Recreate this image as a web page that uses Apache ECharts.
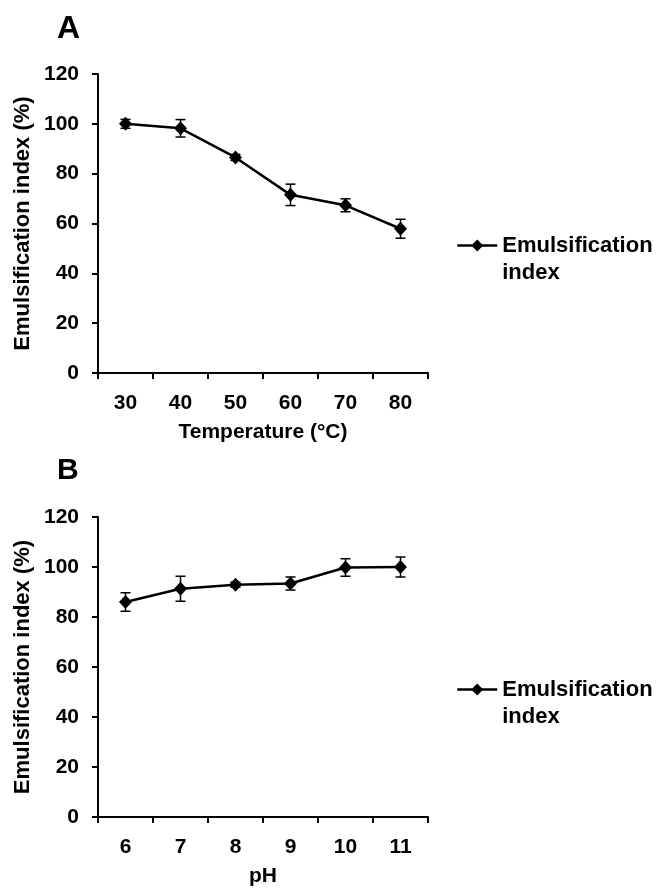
<!DOCTYPE html>
<html>
<head>
<meta charset="utf-8">
<script src="https://cdn.jsdelivr.net/npm/echarts@6/dist/echarts.min.js"></script>
<style>
html,body{margin:0;padding:0;background:#fff;}
#chart{width:660px;height:888px;}
</style>
</head>
<body>
<div id="chart"></div>
<script>
// Panel A: temperature
const tempCategories = ['30', '40', '50', '60', '70', '80'];
const tempValues = [100, 98.2, 86.5, 71.5, 67.3, 57.9];
const tempErrors = [1.8, 3.5, 1.2, 4.3, 2.6, 3.8];
// Panel B: pH
const phCategories = ['6', '7', '8', '9', '10', '11'];
const phValues = [86, 91.3, 92.9, 93.4, 99.8, 100];
const phErrors = [3.7, 5.0, 1.0, 2.6, 3.5, 4.0];
// y axis
const yMin = 0, yMax = 120, yStep = 20;
const seriesName = 'Emulsification index';

const FONT = "'Liberation Sans', Arial, sans-serif";

function errData(vals, errs) {
  return vals.map((v, i) => [i, v - errs[i], v + errs[i]]);
}

function renderErr(params, api) {
  const x = api.value(0);
  const lo = api.coord([x, api.value(1)]);
  const hi = api.coord([x, api.value(2)]);
  const hw = 5;
  const st = { stroke: '#000', lineWidth: 1.5 };
  return {
    type: 'group',
    children: [
      { type: 'line', shape: { x1: hi[0], y1: hi[1], x2: lo[0], y2: lo[1] }, style: st },
      { type: 'line', shape: { x1: hi[0] - hw, y1: hi[1], x2: hi[0] + hw, y2: hi[1] }, style: st },
      { type: 'line', shape: { x1: lo[0] - hw, y1: lo[1], x2: lo[0] + hw, y2: lo[1] }, style: st }
    ]
  };
}

function xAxisCfg(gridIndex, cats, name) {
  return {
    type: 'category', gridIndex, data: cats, boundaryGap: true,
    name, nameLocation: 'middle', nameGap: 49,
    nameTextStyle: { color: '#000', fontFamily: FONT, fontWeight: 'bold', fontSize: 21 },
    axisLine: { show: true, lineStyle: { color: '#000', width: 2 } },
    axisTick: { show: true, inside: false, length: 6, alignWithLabel: false, lineStyle: { color: '#000', width: 2 } },
    axisLabel: { color: '#000', fontFamily: FONT, fontWeight: 'bold', fontSize: 21, margin: 20 },
    splitLine: { show: false }
  };
}
function yAxisCfg(gridIndex) {
  return {
    type: 'value', gridIndex, min: yMin, max: yMax, interval: yStep,
    name: 'Emulsification index (%)', nameLocation: 'middle', nameGap: 64, nameRotate: 90,
    nameTextStyle: { color: '#000', fontFamily: FONT, fontWeight: 'bold', fontSize: 22 },
    axisLine: { show: true, lineStyle: { color: '#000', width: 2 } },
    axisTick: { show: true, inside: false, length: 6, lineStyle: { color: '#000', width: 2 } },
    axisLabel: { color: '#000', fontFamily: FONT, fontWeight: 'bold', fontSize: 21, margin: 19 },
    splitLine: { show: false }
  };
}
function legendCfg(top) {
  return {
    left: 456, top, padding: 0, orient: 'vertical',
    data: [seriesName],
    itemWidth: 40, itemHeight: 15, itemGap: 4,
    selectedMode: false,
    lineStyle: { width: 2.5, color: '#000' },
    formatter: () => '\nEmulsification\nindex',
    textStyle: { color: '#000', fontFamily: FONT, fontWeight: 'bold', fontSize: 22, lineHeight: 27 }
  };
}
function lineSeries(idx, vals) {
  return {
    name: seriesName, type: 'line', xAxisIndex: idx, yAxisIndex: idx,
    data: vals, symbol: 'diamond', symbolSize: [13, 14],
    lineStyle: { color: '#000', width: 2.5 },
    itemStyle: { color: '#000' }, z: 3, animation: false
  };
}
function errSeries(idx, vals, errs) {
  return {
    name: 'err' + idx, type: 'custom', xAxisIndex: idx, yAxisIndex: idx,
    data: errData(vals, errs), renderItem: renderErr, z: 2, animation: false,
    encode: { x: 0, y: [1, 2] }
  };
}

const chart = echarts.init(document.getElementById('chart'), null, { renderer: 'canvas' });
chart.setOption({
  backgroundColor: '#fff',
  animation: false,
  title: [
    { text: 'A', left: 52, top: 8, textStyle: { color: '#000', fontFamily: FONT, fontWeight: 'bold', fontSize: 32 } },
    { text: 'B', left: 52, top: 451, textStyle: { color: '#000', fontFamily: FONT, fontWeight: 'bold', fontSize: 30 } }
  ],
  legend: [legendCfg(205), legendCfg(649)],
  grid: [
    { left: 98, top: 74, width: 330, height: 299, outerBoundsMode: 'none', containLabel: false },
    { left: 98, top: 517, width: 330, height: 300, outerBoundsMode: 'none', containLabel: false }
  ],
  xAxis: [xAxisCfg(0, tempCategories, 'Temperature (°C)'), xAxisCfg(1, phCategories, 'pH')],
  yAxis: [yAxisCfg(0), yAxisCfg(1)],
  series: [
    errSeries(0, tempValues, tempErrors),
    lineSeries(0, tempValues),
    errSeries(1, phValues, phErrors),
    lineSeries(1, phValues)
  ]
});
</script>
</body>
</html>
